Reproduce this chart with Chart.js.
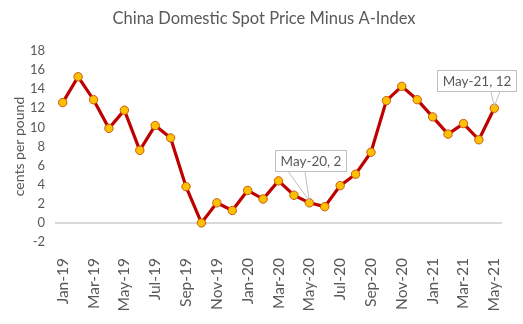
<!DOCTYPE html>
<html>
<head>
<meta charset="utf-8">
<script src="https://cdn.jsdelivr.net/npm/chart.js@4"></script>
<style>
    html, body { margin: 0; padding: 0; background: #fff; }
    #wrap { width: 523px; height: 324px; }
</style>
</head>
<body>
<div id="wrap"><canvas id="spotChart" width="523" height="324"></canvas></div>
<script>
const months = [
    'Jan-19', 'Feb-19', 'Mar-19', 'Apr-19', 'May-19', 'Jun-19', 'Jul-19', 'Aug-19', 'Sep-19', 'Oct-19', 'Nov-19', 'Dec-19',
    'Jan-20', 'Feb-20', 'Mar-20', 'Apr-20', 'May-20', 'Jun-20', 'Jul-20', 'Aug-20', 'Sep-20', 'Oct-20', 'Nov-20', 'Dec-20',
    'Jan-21', 'Feb-21', 'Mar-21', 'Apr-21', 'May-21'
];
const spread = [
    12.6, 15.3, 12.9, 9.9, 11.8, 7.6, 10.2, 8.9, 3.8, 0.0, 2.1, 1.3,
    3.4, 2.5, 4.4, 2.9, 2.1, 1.7, 3.9, 5.1, 7.4, 12.8, 14.3, 12.9,
    11.1, 9.3, 10.4, 8.7, 12.0
];
const yTicks = [-2, 0, 2, 4, 6, 8, 10, 12, 14, 16, 18];

// callouts: point index, text, box offset from the point, leader line anchors (share of box width)
const callouts = [
    { index: 16, text: 'May-20, 2', dx: 1, dy: -32, a1: 0.18, a2: 0.42 },
    { index: 28, text: 'May-21, 12', dx: -18, dy: -17, a1: 0.68, a2: 0.8 }
];

const chartTitle = 'China Domestic Spot Price Minus A-Index';
const textColor = '#595959';
const fontFamily = 'Lato, "Open Sans", sans-serif';

const titlePlugin = {
    id: 'manualTitle',
    beforeDraw(chart) {
        const ctx = chart.ctx;
        ctx.save();
        ctx.font = '16.5px ' + fontFamily;
        ctx.fillStyle = textColor;
        ctx.textAlign = 'center';
        ctx.textBaseline = 'middle';
        ctx.fillText(chartTitle, 264, 19);
        ctx.restore();
    }
};

const calloutPlugin = {
    id: 'callouts',
    afterDatasetsDraw(chart) {
        const ctx = chart.ctx;
        const meta = chart.getDatasetMeta(0);
        ctx.save();
        ctx.font = '13.5px ' + fontFamily;
        callouts.forEach(c => {
            const pt = meta.data[c.index];
            const w = Math.round(ctx.measureText(c.text).width + 10);
            const h = 21;
            const cx = pt.x + c.dx;
            const top = Math.round(pt.y + c.dy - h);
            const left = Math.round(cx - w / 2);
            ctx.strokeStyle = '#bfbfbf';
            ctx.lineWidth = 1;
            ctx.beginPath();
            ctx.moveTo(left + w * c.a1, top + h);
            ctx.lineTo(pt.x, pt.y - 2);
            ctx.lineTo(left + w * c.a2, top + h);
            ctx.stroke();
            ctx.fillStyle = '#fff';
            ctx.fillRect(left, top, w, h);
            ctx.strokeRect(left + 0.5, top + 0.5, w, h);
            ctx.fillStyle = textColor;
            ctx.textAlign = 'center';
            ctx.textBaseline = 'middle';
            ctx.fillText(c.text, left + w / 2 + 0.5, top + h / 2 + 1);
        });
        ctx.restore();
    }
};

function drawChart() {
    const ctx = document.getElementById('spotChart').getContext('2d');
    window.spotChart = new Chart(ctx, {
        type: 'line',
        data: {
            labels: months,
            datasets: [{
                label: chartTitle,
                data: spread,
                borderColor: '#bf0000',
                borderWidth: 3.2,
                pointBackgroundColor: '#ffc000',
                pointBorderColor: '#c55a11',
                pointBorderWidth: 1,
                pointRadius: 4.2,
                tension: 0,
                fill: false
            }]
        },
        options: {
            responsive: false,
            animation: false,
            layout: { padding: { top: 51, right: 21, left: 0, bottom: 0 } },
            plugins: {
                legend: { display: false },
                tooltip: { enabled: false },
                title: { display: false }
            },
            scales: {
                x: {
                    offset: true,
                    afterFit: function(axis) { axis.height = 82; },
                    grid: { display: false },
                    border: { display: false },
                    ticks: {
                        autoSkip: false,
                        minRotation: 90,
                        maxRotation: 90,
                        color: textColor,
                        padding: 8,
                        font: { family: fontFamily, size: 15.5 },
                        callback: function(value, index) {
                            return index % 2 === 0 ? months[index] : '';
                        }
                    }
                },
                y: {
                    min: yTicks[0],
                    max: yTicks[yTicks.length - 1],
                    afterFit: function(axis) { axis.width = 55; },
                    afterBuildTicks: function(axis) {
                        axis.ticks = yTicks.map(v => ({ value: v }));
                    },
                    border: { display: false },
                    grid: {
                        drawTicks: false,
                        lineWidth: 2,
                        color: function(c) {
                            return c.tick && c.tick.value === 0 ? '#d9d9d9' : 'rgba(0,0,0,0)';
                        }
                    },
                    ticks: {
                        autoSkip: false,
                        color: textColor,
                        padding: 10,
                        font: { family: fontFamily, size: 13 }
                    },
                    title: {
                        display: true,
                        text: 'cents per pound',
                        color: textColor,
                        font: { family: fontFamily, size: 14 },
                        padding: { top: 11, bottom: 4 }
                    }
                }
            }
        },
        plugins: [titlePlugin, calloutPlugin]
    });
}

document.addEventListener('DOMContentLoaded', drawChart);
</script>
</body>
</html>
